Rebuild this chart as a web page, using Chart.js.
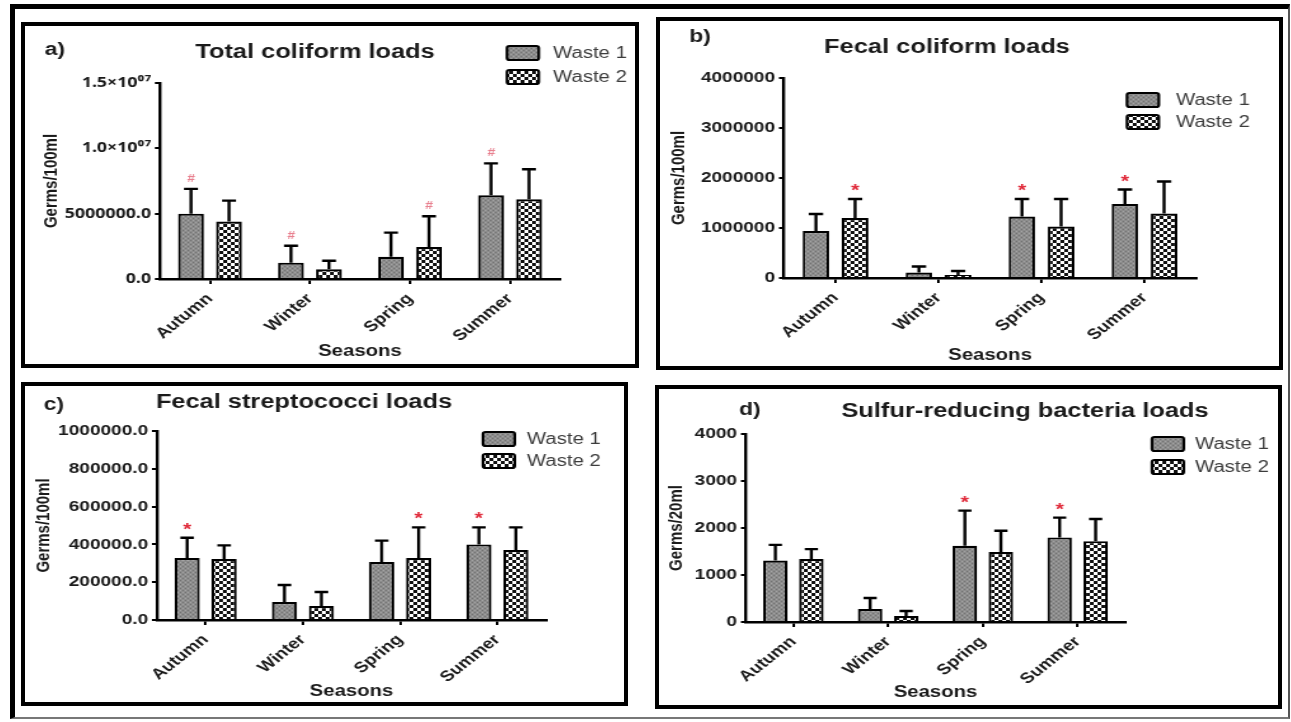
<!DOCTYPE html>
<html><head><meta charset="utf-8">
<script src="https://cdn.jsdelivr.net/npm/chart.js@4/dist/chart.umd.min.js"></script>
<style>
html,body{margin:0;padding:0;background:#fff;width:1291px;height:722px;overflow:hidden;position:relative;}
#frame{position:absolute;left:10px;top:4px;width:1280px;height:715px;box-sizing:border-box;border-top:5px solid #000;border-left:5px solid #000;border-right:2px solid #555;border-bottom:2px solid #777;}
.panel{position:absolute;box-sizing:border-box;border:4px solid #000;overflow:hidden;background:#fff;}
.panel canvas{position:absolute;left:0;top:0;transform-origin:0 0;}
</style></head><body>
<div id="frame"></div>
<div class="panel" id="pa"><canvas id="ca"></canvas></div>
<div class="panel" id="pb"><canvas id="cb"></canvas></div>
<div class="panel" id="pc"><canvas id="cc"></canvas></div>
<div class="panel" id="pd"><canvas id="cd"></canvas></div>
<script>
// ---------------- DATA ----------------
const seasons = ['Autumn', 'Winter', 'Spring', 'Summer'];
const seriesNames = ['Waste 1', 'Waste 2'];

// a) Total coliform loads (Germs/100ml): mean and SD
const totalColiformW1   = [5000000, 1250000, 1700000, 6400000];
const totalColiformW1Sd = [1900000, 1300000, 1850000, 2450000];
const totalColiformW2   = [4400000, 750000, 2450000, 6100000];
const totalColiformW2Sd = [1600000, 650000, 2350000, 2300000];
const totalColiformSigW1 = [1, 1, 0, 1];
const totalColiformSigW2 = [0, 0, 1, 0];
const totalColiformTicks = ['0.0', '5000000.0', '1.0×10⁰⁷', '1.5×10⁰⁷'];

// b) Fecal coliform loads (Germs/100ml)
const fecalColiformW1   = [940000, 110000, 1230000, 1480000];
const fecalColiformW1Sd = [340000, 120000, 350000, 290000];
const fecalColiformW2   = [1200000, 60000, 1030000, 1290000];
const fecalColiformW2Sd = [380000, 80000, 550000, 640000];
const fecalColiformSigW1 = [0, 0, 1, 1];
const fecalColiformSigW2 = [1, 0, 0, 0];
const fecalColiformTicks = ['0', '1000000', '2000000', '3000000', '4000000'];

// c) Fecal streptococci loads (Germs/100ml)
const fecalStrepW1   = [328000, 95000, 307000, 400000];
const fecalStrepW1Sd = [107000, 90000, 113000, 90000];
const fecalStrepW2   = [323000, 74000, 328000, 370000];
const fecalStrepW2Sd = [72000, 74000, 162000, 120000];
const fecalStrepSigW1 = [1, 0, 0, 1];
const fecalStrepSigW2 = [0, 0, 1, 0];
const fecalStrepTicks = ['0.0', '200000.0', '400000.0', '600000.0', '800000.0', '1000000.0'];

// d) Sulfur-reducing bacteria loads (Germs/20ml)
const sulfurW1   = [1310, 277, 1620, 1800];
const sulfurW1Sd = [330, 233, 750, 420];
const sulfurW2   = [1340, 130, 1490, 1720];
const sulfurW2Sd = [210, 104, 450, 470];
const sulfurSigW1 = [0, 0, 1, 1];
const sulfurSigW2 = [0, 0, 0, 0];
const sulfurTicks = ['0', '1000', '2000', '3000', '4000'];

// ---------------- STYLE / LAYOUT ----------------
const BASE_FONT = "'Liberation Sans', Arial, Helvetica, sans-serif";
Chart.defaults.font.family = BASE_FONT;
const STRETCH = 1.27;   // the reference figure is stretched horizontally

function makePattern(kind) {
  const c = document.createElement('canvas');
  const g = c.getContext('2d');
  if (kind === 'w1') {
    c.width = 4; c.height = 4;
    g.fillStyle = '#8c8c8c'; g.fillRect(0, 0, 4, 4);
    g.fillStyle = '#727272'; g.fillRect(0, 0, 1, 1); g.fillRect(2, 2, 1, 1);
    g.fillStyle = '#a4a4a4'; g.fillRect(2, 0, 1, 1); g.fillRect(0, 2, 1, 1);
  } else {
    c.width = 6; c.height = 6;
    g.fillStyle = '#ffffff'; g.fillRect(0, 0, 6, 6);
    g.fillStyle = '#111111'; g.fillRect(0, 0, 3, 3); g.fillRect(3, 3, 3, 3);
  }
  return g.createPattern(c, 'repeat');
}
const patW1 = makePattern('w1');
const patW2 = makePattern('w2');

const errorBars = {
  id: 'errorBars',
  afterDatasetsDraw(chart, args, opts) {
    const ctx = chart.ctx, y = chart.scales.y;
    chart.data.datasets.forEach((ds, di) => {
      const meta = chart.getDatasetMeta(di);
      meta.data.forEach((bar, i) => {
        const top = y.getPixelForValue(ds.data[i] + ds.errors[i]);
        const half = bar.width * 0.27;
        ctx.save();
        ctx.strokeStyle = '#000'; ctx.lineWidth = 2.4;
        ctx.beginPath();
        ctx.moveTo(bar.x, bar.y); ctx.lineTo(bar.x, top);
        ctx.moveTo(bar.x - half, top); ctx.lineTo(bar.x + half, top);
        ctx.stroke();
        if (ds.sig && ds.sig[i]) {
          ctx.fillStyle = opts.color;
          ctx.font = opts.font;
          ctx.textAlign = 'center';
          ctx.textBaseline = 'alphabetic';
          ctx.fillText(opts.text, bar.x, top - opts.gap + opts.baseShift);
        }
        ctx.restore();
      });
    });
  }
};

const decor = {
  id: 'decor',
  afterDraw(chart, args, o) {
    const ctx = chart.ctx;
    ctx.save();
    ctx.fillStyle = '#1a1a1a';
    ctx.textBaseline = 'middle';
    ctx.textAlign = 'center';
    ctx.font = "bold 18px " + BASE_FONT;
    ctx.fillText(o.tag, o.tagX, o.tagY);
    ctx.font = "bold 20px " + BASE_FONT;
    ctx.fillText(o.title, o.titleX, o.titleY);
    ctx.textAlign = 'left';
    ctx.font = "16px " + BASE_FONT;
    chart.data.datasets.forEach((ds, i) => {
      const yy = o.legendY[i];
      const w = 25, h = 14;
      ctx.beginPath();
      ctx.roundRect(o.swatchX, yy - h / 2, w, h, 2);
      ctx.fillStyle = ds.backgroundColor; ctx.fill();
      ctx.lineWidth = 2.2; ctx.strokeStyle = '#000'; ctx.stroke();
      ctx.fillStyle = '#3c3c3c';
      ctx.fillText(ds.label, o.textX, yy + 1);
    });
    ctx.restore();
  }
};

function buildPanel(cfg) {
  const div = document.getElementById(cfg.div);
  const b = cfg.box;
  Object.assign(div.style, { left: b.x + 'px', top: b.y + 'px', width: b.w + 'px', height: b.h + 'px' });
  const W = b.w - 8, H = b.h - 8;
  const cw = Math.round(W / STRETCH);
  const k = W / cw;
  const canvas = document.getElementById(cfg.canvas);
  canvas.width = cw; canvas.height = H;
  canvas.style.width = cw + 'px'; canvas.style.height = H + 'px';
  canvas.style.transform = 'scaleX(' + k + ')';
  const ix = b.x + 4, iy = b.y + 4;
  const toX = p => (p - ix) / k, toY = p => p - iy;
  const L = toX(cfg.area.l), R = toX(cfg.area.r), T = toY(cfg.area.t), B = toY(cfg.area.b);
  const padL = Math.max(0, toX(cfg.yTitleX) - 9 - 4);
  const yAxisW = L - padL;
  const xAxisH = H - B;
  const xtPad = Math.max(0, (H - toY(cfg.xTitleY)) - 9.6);
  const labels = cfg.ticks;

  return new Chart(canvas, {
    type: 'bar',
    data: {
      labels: seasons,
      datasets: [
        { label: seriesNames[0], data: cfg.w1, errors: cfg.w1Sd, sig: cfg.sig1,
          backgroundColor: patW1, borderColor: '#000', borderWidth: 2.2,
          categoryPercentage: 0.76, barPercentage: 0.68 },
        { label: seriesNames[1], data: cfg.w2, errors: cfg.w2Sd, sig: cfg.sig2,
          backgroundColor: patW2, borderColor: '#000', borderWidth: 2.2,
          categoryPercentage: 0.76, barPercentage: 0.68 }
      ]
    },
    options: {
      responsive: false, animation: false, devicePixelRatio: 1,
      layout: { padding: { left: padL, right: cw - R, top: T, bottom: 0 } },
      plugins: {
        legend: { display: false }, title: { display: false }, tooltip: { enabled: false },
        decor: {
          tag: cfg.tag, tagX: toX(cfg.tagPos[0]), tagY: toY(cfg.tagPos[1]),
          title: cfg.title, titleX: toX(cfg.titlePos[0]), titleY: toY(cfg.titlePos[1]),
          swatchX: toX(cfg.legend.swatchX), textX: toX(cfg.legend.textX),
          legendY: cfg.legend.y.map(toY)
        },
        errorBars: cfg.mark
      },
      scales: {
        x: {
          type: 'category', offset: true,
          grid: { display: true, drawOnChartArea: false, drawTicks: true, tickLength: 5, offset: false, color: '#000', lineWidth: 2 },
          border: { display: true, color: '#000', width: 2.5 },
          ticks: { minRotation: 45, maxRotation: 45, autoSkip: false, padding: 6, color: '#1a1a1a',
                   font: { size: 15, weight: 'bold' } },
          title: { display: true, text: 'Seasons', color: '#1a1a1a', font: { size: 16, weight: 'bold' },
                   padding: { top: 0, bottom: xtPad } },
          afterFit(s) { s.height = xAxisH; }
        },
        y: {
          min: 0, max: cfg.max,
          ticks: { stepSize: cfg.step, color: '#1a1a1a', padding: 3,
                   font: { size: cfg.tickSize || 15, weight: 'bold', family: cfg.tickFamily || BASE_FONT },
                   callback: (v) => labels[Math.round(v / cfg.step)] },
          grid: { display: true, drawOnChartArea: false, drawTicks: true, tickLength: 4, color: '#000', lineWidth: 2 },
          border: { display: true, color: '#000', width: 2.4 },
          title: { display: true, text: cfg.yLabel, color: '#1a1a1a', font: { size: 15, weight: 'bold' },
                   padding: { top: 4, bottom: 4 } },
          afterFit(s) { s.width = yAxisW; }
        }
      }
    },
    plugins: [errorBars, decor]
  });
}

const hashMark = { text: '#', color: '#e8808f', font: "italic bold 11px " + BASE_FONT, gap: 11, baseShift: 4 };
const starMark = { text: '*', color: '#e02a3a', font: "bold 17px " + BASE_FONT, gap: 12, baseShift: 9 };

buildPanel({
  div: 'pa', canvas: 'ca', box: { x: 21, y: 22, w: 618, h: 346 },
  area: { l: 160, r: 560, t: 83, b: 279 },
  tag: 'a)', tagPos: [55, 50], title: 'Total coliform loads', titlePos: [315, 52],
  legend: { swatchX: 507, textX: 553, y: [53, 77] },
  yTitleX: 52, xTitleY: 352, yLabel: 'Germs/100ml',
  max: 15000000, step: 5000000, ticks: totalColiformTicks,
  tickFamily: "'Noto Sans', 'DejaVu Sans', sans-serif", tickSize: 14,
  w1: totalColiformW1, w1Sd: totalColiformW1Sd, w2: totalColiformW2, w2Sd: totalColiformW2Sd,
  sig1: totalColiformSigW1, sig2: totalColiformSigW2, mark: hashMark
});
buildPanel({
  div: 'pb', canvas: 'cb', box: { x: 656, y: 17, w: 627, h: 353 },
  area: { l: 784, r: 1196, t: 78, b: 278 },
  tag: 'b)', tagPos: [700, 37], title: 'Fecal coliform loads', titlePos: [947, 47],
  legend: { swatchX: 1127, textX: 1176, y: [100, 122] },
  yTitleX: 679, xTitleY: 356, yLabel: 'Germs/100ml',
  max: 4000000, step: 1000000, ticks: fecalColiformTicks,
  w1: fecalColiformW1, w1Sd: fecalColiformW1Sd, w2: fecalColiformW2, w2Sd: fecalColiformW2Sd,
  sig1: fecalColiformSigW1, sig2: fecalColiformSigW2, mark: starMark
});
buildPanel({
  div: 'pc', canvas: 'cc', box: { x: 21, y: 382, w: 607, h: 324 },
  area: { l: 157, r: 546, t: 431, b: 620 },
  tag: 'c)', tagPos: [54, 405], title: 'Fecal streptococci loads', titlePos: [304, 402],
  legend: { swatchX: 483, textX: 527, y: [439, 461] },
  yTitleX: 44, xTitleY: 692, yLabel: 'Germs/100ml',
  max: 1000000, step: 200000, ticks: fecalStrepTicks,
  w1: fecalStrepW1, w1Sd: fecalStrepW1Sd, w2: fecalStrepW2, w2Sd: fecalStrepW2Sd,
  sig1: fecalStrepSigW1, sig2: fecalStrepSigW2, mark: starMark
});
buildPanel({
  div: 'pd', canvas: 'cd', box: { x: 655, y: 385, w: 627, h: 324 },
  area: { l: 746, r: 1125, t: 434, b: 622 },
  tag: 'd)', tagPos: [750, 410], title: 'Sulfur-reducing bacteria loads', titlePos: [1025, 411],
  legend: { swatchX: 1152, textX: 1195, y: [444, 467] },
  yTitleX: 677, xTitleY: 693, yLabel: 'Germs/20ml',
  max: 4000, step: 1000, ticks: sulfurTicks,
  w1: sulfurW1, w1Sd: sulfurW1Sd, w2: sulfurW2, w2Sd: sulfurW2Sd,
  sig1: sulfurSigW1, sig2: sulfurSigW2, mark: starMark
});
</script>
</body></html>
